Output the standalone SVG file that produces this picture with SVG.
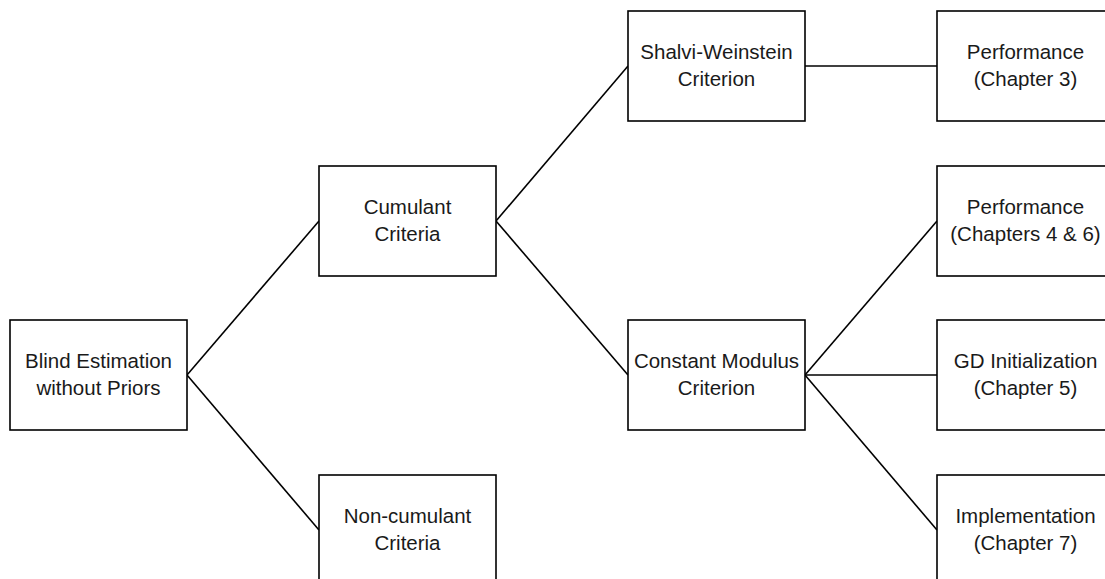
<svg xmlns="http://www.w3.org/2000/svg" width="1105" height="579" viewBox="0 0 1105 579">
<style>
.box{fill:#fff;stroke:#000;stroke-width:1.6}
.lbl{font-family:"Liberation Sans",Arial,sans-serif;font-size:20.5px;fill:#1a1a1a;text-anchor:middle}
.edge{stroke:#000;stroke-width:1.6;fill:none}
</style>
<rect width="1105" height="579" fill="#fff"/>
<g id="connectors">
<line class="edge" x1="187" y1="375" x2="319" y2="221"/>
<line class="edge" x1="187" y1="375" x2="319" y2="530"/>
<line class="edge" x1="496" y1="221" x2="628" y2="66"/>
<line class="edge" x1="496" y1="221" x2="628" y2="375"/>
<line class="edge" x1="805" y1="66" x2="937" y2="66"/>
<line class="edge" x1="805" y1="375" x2="937" y2="221"/>
<line class="edge" x1="805" y1="375" x2="937" y2="375"/>
<line class="edge" x1="805" y1="375" x2="937" y2="530"/>
</g>
<g id="blind"><rect class="box" x="10" y="320" width="177" height="110"/><text class="lbl" x="98.5" y="368">Blind Estimation</text><text class="lbl" x="98.5" y="395">without Priors</text></g>
<g id="cumulant"><rect class="box" x="319" y="166" width="177" height="110"/><text class="lbl" x="407.5" y="214">Cumulant</text><text class="lbl" x="407.5" y="241">Criteria</text></g>
<g id="noncumulant"><rect class="box" x="319" y="475" width="177" height="110"/><text class="lbl" x="407.5" y="523">Non-cumulant</text><text class="lbl" x="407.5" y="550">Criteria</text></g>
<g id="shalvi"><rect class="box" x="628" y="11" width="177" height="110"/><text class="lbl" x="716.5" y="59">Shalvi-Weinstein</text><text class="lbl" x="716.5" y="86">Criterion</text></g>
<g id="cm"><rect class="box" x="628" y="320" width="177" height="110"/><text class="lbl" x="716.5" y="368">Constant Modulus</text><text class="lbl" x="716.5" y="395">Criterion</text></g>
<g id="perf3"><rect class="box" x="937" y="11" width="177" height="110"/><text class="lbl" x="1025.5" y="59">Performance</text><text class="lbl" x="1025.5" y="86">(Chapter 3)</text></g>
<g id="perf46"><rect class="box" x="937" y="166" width="177" height="110"/><text class="lbl" x="1025.5" y="214">Performance</text><text class="lbl" x="1025.5" y="241">(Chapters 4 &amp; 6)</text></g>
<g id="gd"><rect class="box" x="937" y="320" width="177" height="110"/><text class="lbl" x="1025.5" y="368">GD Initialization</text><text class="lbl" x="1025.5" y="395">(Chapter 5)</text></g>
<g id="impl"><rect class="box" x="937" y="475" width="177" height="110"/><text class="lbl" x="1025.5" y="523">Implementation</text><text class="lbl" x="1025.5" y="550">(Chapter 7)</text></g>
</svg>
